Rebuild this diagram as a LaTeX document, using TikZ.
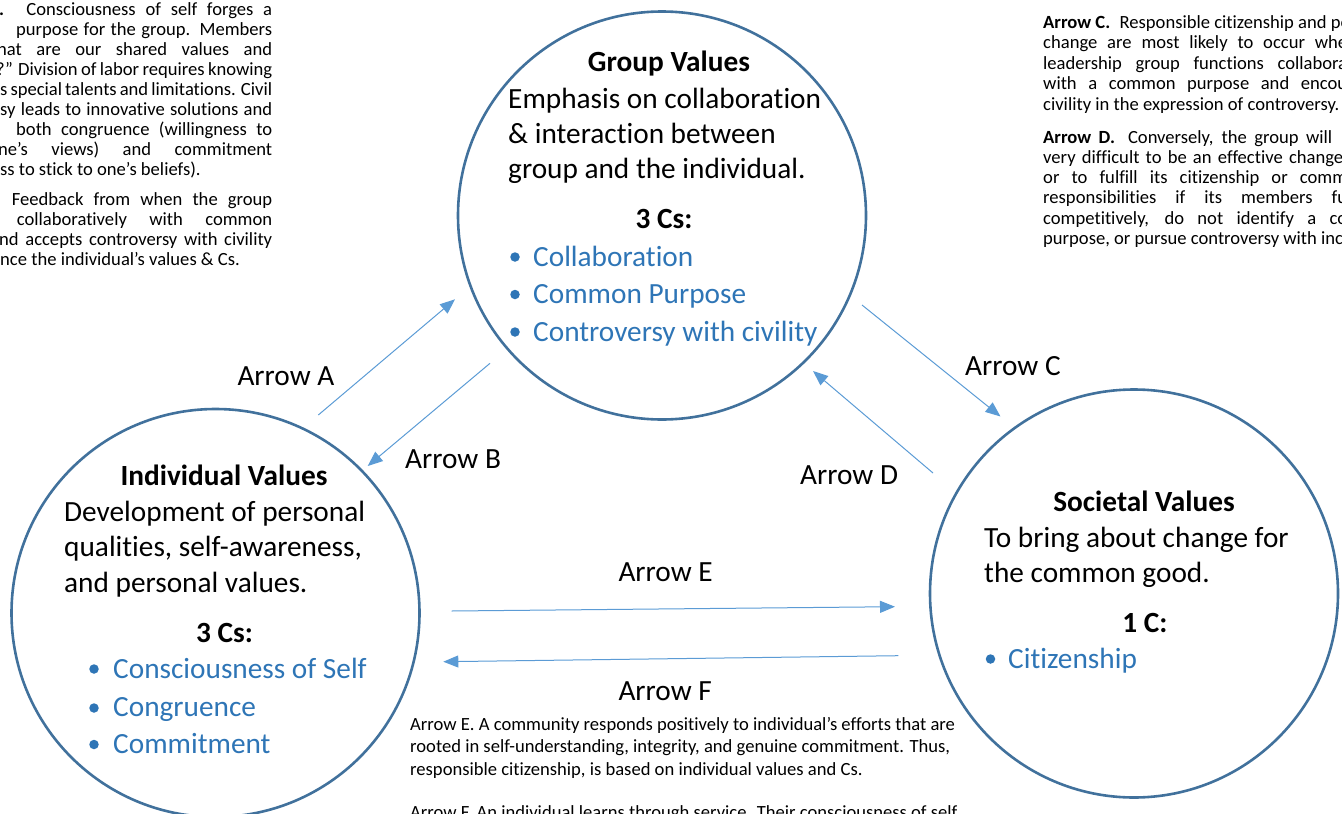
\documentclass[tikz,border=0pt]{standalone}
\usepackage{fontspec}
\setmainfont{Carlito}[Ligatures=NoCommon]
\usetikzlibrary{arrows.meta}
\definecolor{ringblue}{HTML}{41719C}
\definecolor{arrowblue}{HTML}{5B9BD5}
\definecolor{listblue}{HTML}{2E75B6}
\tikzset{
  ring/.style={circle, draw=ringblue, line width=2.6pt, minimum size=408pt, inner sep=0pt},
  link/.style={draw=arrowblue, line width=1pt, -{Triangle[length=15pt,width=12pt]}},
  big/.style={font=\fontsize{29.3}{36}\selectfont, inner sep=0pt, anchor=base west},
  bigc/.style={font=\fontsize{29.3}{36}\selectfont\bfseries, inner sep=0pt, anchor=base},
  listitem/.style={big, text=listblue},
  dotmark/.style={circle, fill=listblue, minimum size=9.5pt, inner sep=0pt},
  small/.style={font=\fontsize{18.6}{20.3}\selectfont, inner sep=0pt, anchor=base west},
}
\begin{document}
\begin{tikzpicture}[x=1pt,y=-1pt]
\path[use as bounding box] (0,0) rectangle (1342,814);
\clip (0,0) rectangle (1342,814);

% circles
\node[ring] (group) at (662,215.5) {};
\node[ring] (indiv) at (215.5,613) {};
\node[ring] (soc) at (1134,593.5) {};

% group text
\node[bigc] (gt) at (669,71.7) {Group Values};
\node[big] (g1) at (508,108.3) {Emphasis on collaboration};
\node[big] (g2) at (508,143.6) {\& interaction between};
\node[big] (g3) at (508,178.9) {group and the individual.};
\node[bigc] (g4) at (664,228) {3 Cs:};
\node[dotmark] (gd1) at (515,257) {};
\node[dotmark] (gd2) at (515,294.5) {};
\node[dotmark] (gd3) at (515,332) {};
\node[listitem] (gl1) at (533,266) {Collaboration};
\node[listitem] (gl2) at (533,303.5) {Common Purpose};
\node[listitem] (gl3) at (533,341) {Controversy with civility};

% individual text
\node[bigc] (it) at (224,485) {Individual Values};
\node[big] (i1) at (64,521) {Development of personal};
\node[big] (i2) at (64,556.7) {qualities, self-awareness,};
\node[big] (i3) at (64,592.4) {and personal values.};
\node[bigc] (i4) at (224.5,642) {3 Cs:};
\node[dotmark] (id1) at (94,669) {};
\node[dotmark] (id2) at (94,708) {};
\node[dotmark] (id3) at (94,744.5) {};
\node[listitem] (il1) at (113,678) {Consciousness of Self};
\node[listitem] (il2) at (113,716.5) {Congruence};
\node[listitem] (il3) at (113,753) {Commitment};

% societal text
\node[bigc] (st) at (1144,511) {Societal Values};
\node[big] (s1) at (984,547) {To bring about change for};
\node[big] (s2) at (984,582.3) {the common good.};
\node[bigc] (s3) at (1145,632) {1 C:};
\node[dotmark] (sd1) at (990.5,659) {};
\node[listitem] (sl1) at (1008,668) {Citizenship};

% arrows
\coordinate (aS) at (318.3,415);  \coordinate (aE) at (455,299.3);
\coordinate (bS) at (490,363.3);  \coordinate (bE) at (367.7,466);
\coordinate (cS) at (862,305);    \coordinate (cE) at (1000.5,416.5);
\coordinate (dS) at (933,473);    \coordinate (dE) at (813,371);
\coordinate (eS) at (451.7,611);  \coordinate (eE) at (895,606.7);
\coordinate (fS) at (898.3,655.7);\coordinate (fE) at (443.3,661.7);
\draw[link] (aS) -- (aE);
\draw[link] (bS) -- (bE);
\draw[link] (cS) -- (cE);
\draw[link] (dS) -- (dE);
\draw[link] (eS) -- (eE);
\draw[link] (fS) -- (fE);

% arrow labels
\node[big] (la) at (237.3,385) {Arrow A};
\node[big] (lb) at (405,468.5) {Arrow B};
\node[big] (lc) at (965,375.5) {Arrow C};
\node[big] (ld) at (800,484) {Arrow D};
\node[big] (le) at (618.3,581) {Arrow E};
\node[big] (lf) at (618.3,700.7) {Arrow F};

% top-left text
\node[small] (tl1) at (-1,15) {\makebox[273pt][s]{\textbf{.} Consciousness of self forges a}};
\node[small] (tl2) at (16,35.1) {\makebox[256pt][s]{purpose for the group. Members}};
\node[small] (tl3) at (-3,55.2) {\makebox[275pt][s]{hat are our shared values and}};
\node[small] (tl4) at (-4,75.3) {\makebox[276pt][s]{?” Division of labor requires knowing}};
\node[small] (tl5) at (0,95.4) {\makebox[272pt][s]{s special talents and limitations. Civil}};
\node[small] (tl6) at (0,115.5) {\makebox[272pt][s]{sy leads to innovative solutions and}};
\node[small] (tl7) at (16,135.6) {\makebox[256pt][s]{both congruence (willingness to}};
\node[small] (tl8) at (-2,155.7) {\makebox[274pt][s]{ne’s views) and commitment}};
\node[small] (tl9) at (0,175.8) {ss to stick to one’s beliefs).};
\node[small] (tp1) at (11.7,205) {\makebox[260.3pt][s]{Feedback from when the group}};
\node[small] (tp2) at (16.7,225.3) {\makebox[255.3pt][s]{collaboratively with common}};
\node[small] (tp3) at (-1,245.6) {\makebox[273pt][s]{nd accepts controversy with civility}};
\node[small] (tp4) at (0,265.9) {nce the individual’s values \& Cs.};

% top-right text
\node[small] (tr1) at (1043,28.5) {\textbf{Arrow C.}\hspace{0.5em}Responsible citizenship and po};
\node[small] (tr2) at (1043,48.9) {\makebox[304pt][s]{change are most likely to occur whe}};
\node[small] (tr3) at (1043,69.3) {\makebox[304pt][s]{leadership group functions collabora}};
\node[small] (tr4) at (1043,89.7) {\makebox[304pt][s]{with a common purpose and encou}};
\node[small] (tr5) at (1043,110.1) {civility in the expression of controversy.};
\node[small] (tr6) at (1043,143.3) {\makebox[289pt][s]{\textbf{Arrow D.}\hspace{0.3em} Conversely, the group will}};
\node[small] (tr7) at (1043,163.5) {\makebox[300pt][s]{very difficult to be an effective change}};
\node[small] (tr8) at (1043,183.7) {\makebox[304pt][s]{or to fulfill its citizenship or comm}};
\node[small] (tr9) at (1043,203.9) {\makebox[304pt][s]{responsibilities if its members fu}};
\node[small] (tr10) at (1043,224.1) {\makebox[304pt][s]{competitively, do not identify a co}};
\node[small] (tr11) at (1043,244.3) {purpose, or pursue controversy with inc};

% bottom text
\node[small] (b1) at (410,730) {Arrow E. A community responds positively to individual’s efforts that are};
\node[small] (b2) at (410,752.7) {rooted in self-understanding, integrity, and genuine commitment. Thus,};
\node[small] (b3) at (410,775.3) {responsible citizenship, is based on individual values and Cs.};
\node[small] (b4) at (410,818) {Arrow F. An individual learns through service. Their consciousness of self};
\end{tikzpicture}
\end{document}
